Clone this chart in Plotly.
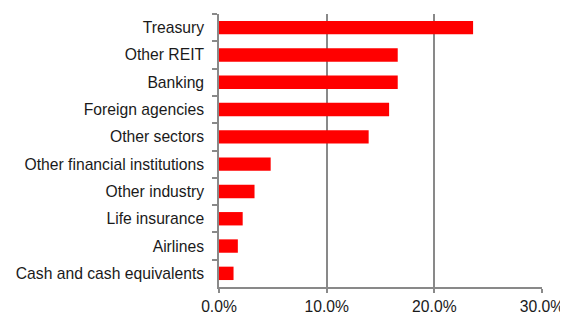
import plotly.graph_objects as go

categories = ["Treasury", "Other REIT", "Banking", "Foreign agencies", "Other sectors",
              "Other financial institutions", "Other industry", "Life insurance",
              "Airlines", "Cash and cash equivalents"]
values = [23.6, 16.6, 16.6, 15.8, 13.9, 4.8, 3.3, 2.2, 1.75, 1.35]
x_ticks = [0, 10, 20, 30]
x_tick_labels = ["0.0%", "10.0%", "20.0%", "30.0%"]

grey = "#898989"
fig = go.Figure(go.Bar(
    x=values, y=categories, orientation="h",
    marker=dict(color="#ff0000", line=dict(width=0)),
    width=0.49,
))
fig.update_layout(
    width=560, height=306,
    margin=dict(l=210.5, r=25.5, t=6, b=27, autoexpand=False),
    paper_bgcolor="white", plot_bgcolor="white",
    font=dict(family="Liberation Sans, Arial, sans-serif", size=15.7, color="#1a1a1a"),
    showlegend=False,
)
fig.update_xaxes(
    range=[0, 30], tickvals=x_ticks, ticktext=x_tick_labels,
    showgrid=True, gridcolor=grey, gridwidth=1.5,
    showline=True, linecolor=grey, linewidth=1.5,
    ticks="outside", ticklen=4, tickcolor=grey, tickwidth=1.5,
    zeroline=False, fixedrange=True, automargin=False,
)
fig.update_yaxes(
    autorange="reversed", type="category",
    showline=True, linecolor=grey, linewidth=1.5,
    ticks="outside", ticklen=5, tickcolor=grey, tickwidth=1.5,
    tickson="boundaries", showgrid=False, zeroline=False,
    ticklabelstandoff=10, automargin=False,
)
fig.write_html("out.html")
